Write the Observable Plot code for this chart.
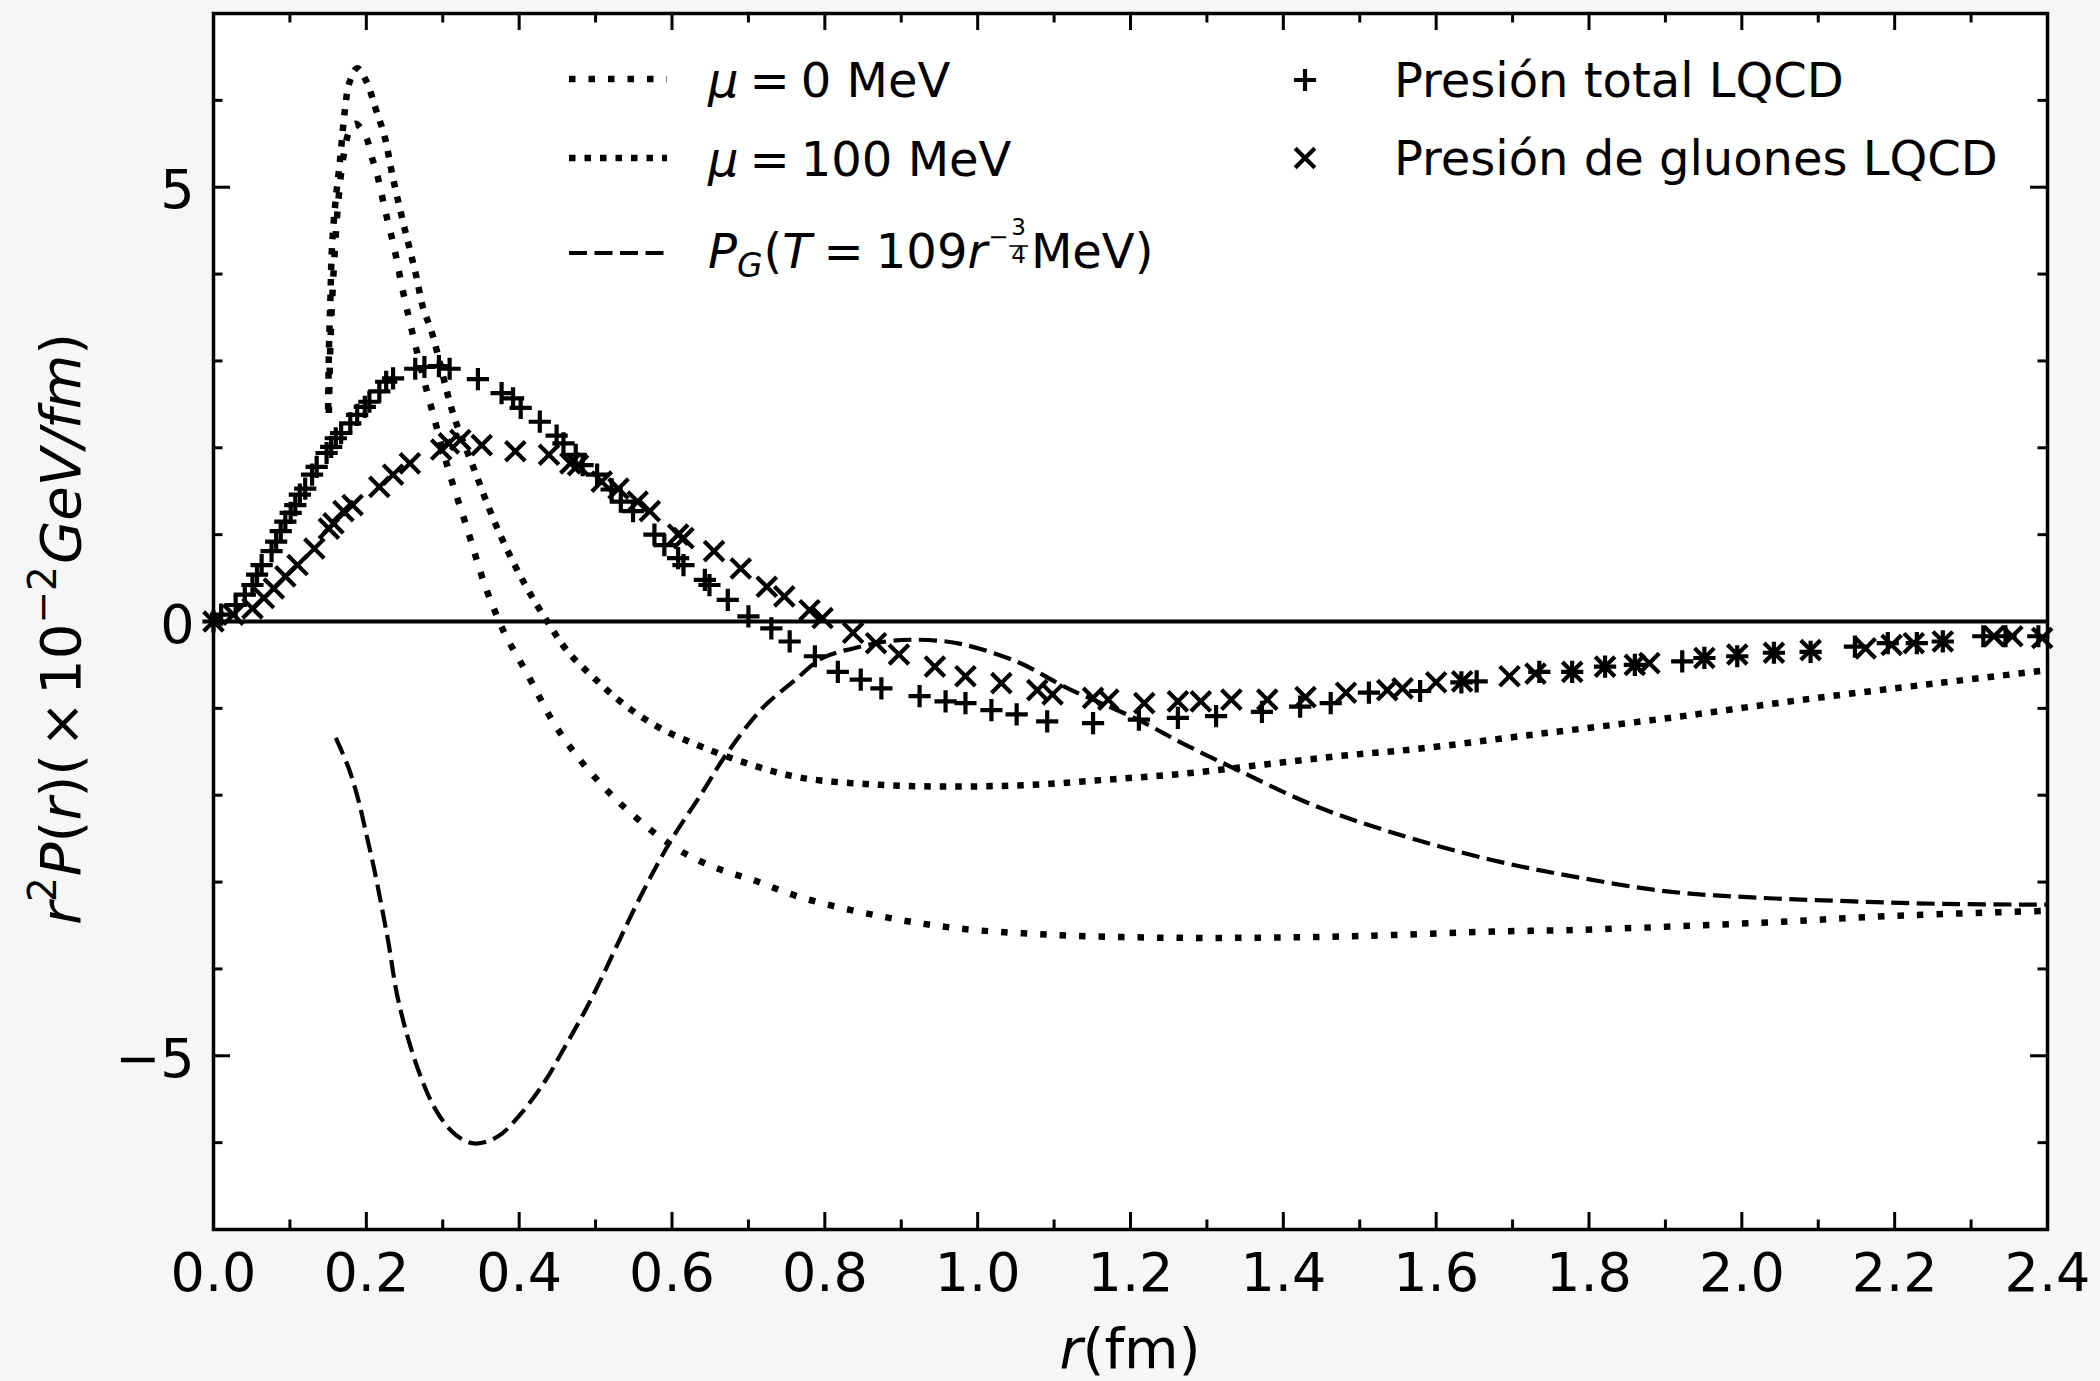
<!DOCTYPE html>
<html>
<head>
<meta charset="utf-8">
<script src="https://cdn.jsdelivr.net/npm/d3@7"></script>
<script src="https://cdn.jsdelivr.net/npm/@observablehq/plot@0.6"></script>
<style>
  html, body { margin: 0; padding: 0; background: #f6f6f6; }
  svg { display: block; }
  svg text { white-space: pre; }
</style>
</head>
<body>
<div id="chart"></div>
<script>
// ---------------- DATA ----------------
// mu = 0 MeV (dotted, sparser dots)
const mu0R = [0.151,0.153,0.157,0.163,0.170,0.178,0.186,0.200,0.207,0.214,0.225,0.237,0.247,0.258,0.276,0.287,0.308,0.333,0.355,0.373,0.384,0.411,0.444,0.474,0.508,0.544,0.598,0.637,0.671,0.704,0.770,0.871,0.971,1.104,1.238,1.372,1.505,1.673,1.788,2.021,2.197,2.400];
const mu0P = [2.40,3.20,4.00,4.80,5.35,5.65,5.73,5.57,5.35,5.15,4.72,4.28,3.84,3.41,2.76,2.40,1.73,1.04,0.42,0.02,-0.19,-0.61,-1.15,-1.53,-1.88,-2.19,-2.57,-2.76,-2.88,-2.97,-3.18,-3.39,-3.53,-3.61,-3.64,-3.64,-3.62,-3.57,-3.55,-3.47,-3.39,-3.33];

// mu = 100 MeV (dotted, denser dots)
const mu100R = [0.150,0.151,0.153,0.155,0.160,0.165,0.172,0.178,0.188,0.200,0.212,0.224,0.235,0.248,0.257,0.266,0.274,0.286,0.314,0.339,0.373,0.408,0.439,0.464,0.498,0.538,0.585,0.638,0.704,0.770,0.871,0.971,1.071,1.171,1.272,1.372,1.472,1.572,1.729,1.905,2.080,2.256,2.400];
const mu100P = [2.44,3.11,3.72,4.30,4.87,5.26,5.89,6.21,6.37,6.22,5.91,5.58,5.10,4.60,4.28,3.95,3.62,3.32,2.38,1.80,1.04,0.42,-0.03,-0.35,-0.65,-0.96,-1.23,-1.44,-1.65,-1.80,-1.88,-1.90,-1.88,-1.82,-1.75,-1.65,-1.55,-1.47,-1.30,-1.11,-0.90,-0.71,-0.56];

// P_G(T = 109 r^-3/4 MeV) (dashed)
const pgR = [0.160,0.177,0.190,0.200,0.210,0.228,0.242,0.267,0.292,0.317,0.342,0.372,0.401,0.434,0.459,0.493,0.558,0.598,0.638,0.671,0.718,0.759,0.797,0.837,0.880,0.917,0.959,0.984,1.051,1.118,1.205,1.272,1.345,1.438,1.539,1.670,1.788,1.905,2.021,2.138,2.256,2.400];
const pgP = [-1.34,-1.69,-2.07,-2.45,-2.84,-3.65,-4.37,-5.14,-5.64,-5.91,-6.01,-5.93,-5.68,-5.29,-4.91,-4.37,-3.18,-2.53,-1.99,-1.53,-1.00,-0.69,-0.42,-0.31,-0.23,-0.21,-0.23,-0.27,-0.46,-0.77,-1.11,-1.42,-1.73,-2.11,-2.42,-2.74,-2.95,-3.11,-3.18,-3.22,-3.25,-3.26];

// Presión total LQCD (+)
const totalR = [0.000,0.010,0.029,0.041,0.051,0.057,0.063,0.076,0.082,0.088,0.094,0.101,0.107,0.113,0.120,0.129,0.135,0.148,0.154,0.160,0.167,0.179,0.188,0.198,0.204,0.217,0.226,0.235,0.264,0.276,0.295,0.309,0.346,0.377,0.392,0.402,0.427,0.449,0.458,0.474,0.483,0.502,0.521,0.533,0.549,0.577,0.590,0.608,0.615,0.643,0.649,0.673,0.700,0.730,0.754,0.787,0.817,0.847,0.874,0.924,0.958,0.984,1.018,1.051,1.091,1.151,1.211,1.262,1.312,1.372,1.422,1.462,1.512,1.579,1.633,1.653,1.735,1.778,1.821,1.860,1.922,1.951,1.994,2.042,2.090,2.148,2.191,2.229,2.263,2.316,2.345,2.388];
const totalP = [0.00,0.08,0.19,0.31,0.42,0.54,0.65,0.81,0.92,1.04,1.15,1.25,1.34,1.46,1.53,1.69,1.78,1.94,2.01,2.11,2.17,2.28,2.38,2.47,2.53,2.65,2.76,2.80,2.91,2.93,2.94,2.91,2.79,2.63,2.57,2.46,2.30,2.14,2.05,1.92,1.80,1.69,1.52,1.38,1.27,1.00,0.88,0.73,0.65,0.48,0.42,0.25,0.06,-0.08,-0.23,-0.40,-0.58,-0.67,-0.77,-0.86,-0.92,-0.94,-1.02,-1.07,-1.15,-1.17,-1.13,-1.11,-1.09,-1.04,-0.98,-0.94,-0.82,-0.80,-0.70,-0.69,-0.58,-0.58,-0.52,-0.50,-0.46,-0.42,-0.40,-0.36,-0.35,-0.29,-0.25,-0.25,-0.23,-0.17,-0.17,-0.17];

// Presión de gluones LQCD (x)
const gluonR = [0.000,0.026,0.051,0.066,0.079,0.094,0.110,0.132,0.151,0.157,0.170,0.182,0.217,0.235,0.257,0.298,0.308,0.323,0.351,0.395,0.439,0.467,0.477,0.508,0.530,0.555,0.571,0.608,0.615,0.655,0.690,0.724,0.747,0.780,0.797,0.837,0.867,0.897,0.944,0.984,1.031,1.078,1.098,1.151,1.171,1.218,1.262,1.292,1.332,1.379,1.429,1.482,1.536,1.556,1.600,1.634,1.696,1.730,1.778,1.821,1.860,1.879,1.951,1.994,2.042,2.090,2.162,2.196,2.225,2.263,2.330,2.354,2.393];
const gluonP = [0.00,0.08,0.15,0.27,0.38,0.52,0.65,0.84,1.07,1.13,1.27,1.34,1.55,1.69,1.82,1.98,2.05,2.09,2.03,1.96,1.92,1.82,1.80,1.61,1.53,1.38,1.27,1.00,0.96,0.81,0.61,0.40,0.29,0.13,0.04,-0.13,-0.25,-0.38,-0.52,-0.63,-0.71,-0.79,-0.84,-0.88,-0.90,-0.94,-0.92,-0.92,-0.90,-0.90,-0.87,-0.82,-0.79,-0.77,-0.70,-0.69,-0.63,-0.60,-0.58,-0.52,-0.50,-0.48,-0.42,-0.38,-0.36,-0.33,-0.31,-0.27,-0.25,-0.23,-0.17,-0.17,-0.19];

// ticks
const xMajor = [0.0,0.2,0.4,0.6,0.8,1.0,1.2,1.4,1.6,1.8,2.0,2.2,2.4];
const xMinor = [0.1,0.3,0.5,0.7,0.9,1.1,1.3,1.5,1.7,1.9,2.1,2.3];
const yMajor = [-5,0,5];
const yMinor = [-6,-4,-3,-2,-1,1,2,3,4,6];

// legend labels
const legendMu0 = "0 MeV";
const legendMu100 = "100 MeV";
const legendTotal = "Presión total LQCD";
const legendGluon = "Presión de gluones LQCD";

// ---------------- LAYOUT / STYLE ----------------
const FONT = "DejaVu Sans";
const W = 2100, H = 1381;
const M = {top: 13, right: 53, bottom: 152, left: 213};
const xDomain = [0, 2.4], yDomain = [-7, 7];
const pxPerX = (W - M.left - M.right) / (xDomain[1] - xDomain[0]);
const pxPerY = (H - M.top - M.bottom) / (yDomain[1] - yDomain[0]);
const majorLen = 17, minorLen = 9.5, tickW = 3;
const tickFont = 54, labelFont = 56, legendFont = 48;

const dotMu0 = {stroke: "black", strokeWidth: 6.5, strokeDasharray: "6.5,13", strokeLinecap: "butt"};
const dotMu100 = {stroke: "black", strokeWidth: 6.5, strokeDasharray: "6.5,9", strokeLinecap: "butt"};
const dashPG = {stroke: "black", strokeWidth: 4.2, strokeDasharray: "18,7.5", strokeLinecap: "butt"};
const plusR = 7.2, timesR = 9.0, markerW = 4.2;

const toRows = (R, P) => R.map((r, i) => ({r, p: P[i]}));
const mu0 = toRows(mu0R, mu0P);
const mu100 = toRows(mu100R, mu100P);
const pg = toRows(pgR, pgP);
const total = toRows(totalR, totalP);
const gluon = toRows(gluonR, gluonP);

function xTickRules(vals, len) {
  return [
    Plot.ruleX(vals, {x: d => d, y1: yDomain[0], y2: yDomain[0] + len / pxPerY, stroke: "black", strokeWidth: tickW}),
    Plot.ruleX(vals, {x: d => d, y1: yDomain[1], y2: yDomain[1] - len / pxPerY, stroke: "black", strokeWidth: tickW})
  ];
}
function yTickRules(vals, len) {
  return [
    Plot.ruleY(vals, {y: d => d, x1: xDomain[0], x2: xDomain[0] + len / pxPerX, stroke: "black", strokeWidth: tickW}),
    Plot.ruleY(vals, {y: d => d, x1: xDomain[1], x2: xDomain[1] - len / pxPerX, stroke: "black", strokeWidth: tickW})
  ];
}

const chart = Plot.plot({
  width: W, height: H,
  marginTop: M.top, marginRight: M.right, marginBottom: M.bottom, marginLeft: M.left,
  style: {background: "#f6f6f6", fontFamily: FONT, fontSize: tickFont + "px", color: "black"},
  x: {domain: xDomain, label: null},
  y: {domain: yDomain, label: null},
  marks: [
    Plot.frame({fill: "white", stroke: null}),
    Plot.axisX({ticks: xMajor, tickSize: 0, tickPadding: 23, tickFormat: d3.format(".1f"), fontSize: tickFont, label: null}),
    Plot.axisY({ticks: yMajor, tickSize: 0, tickPadding: 19, tickFormat: d3.format("d"), fontSize: tickFont, label: null, dy: 4}),
    ...xTickRules(xMajor, majorLen),
    ...xTickRules(xMinor, minorLen),
    ...yTickRules(yMajor, majorLen),
    ...yTickRules(yMinor, minorLen),
    Plot.ruleY([0], {stroke: "black", strokeWidth: 4}),
    Plot.line(mu0, {x: "r", y: "p", curve: "catmull-rom", ...dotMu0}),
    Plot.line(mu100, {x: "r", y: "p", curve: "catmull-rom", ...dotMu100}),
    Plot.line(pg, {x: "r", y: "p", curve: "catmull-rom", ...dashPG}),
    Plot.dot(total, {x: "r", y: "p", symbol: "plus", r: plusR, fill: "none", stroke: "black", strokeWidth: markerW}),
    Plot.dot(gluon, {x: "r", y: "p", symbol: "times", r: timesR, fill: "none", stroke: "black", strokeWidth: markerW}),
    Plot.frame({stroke: "black", strokeWidth: 3.5, fill: "none"})
  ]
});
document.getElementById("chart").appendChild(chart);

// ---------------- RICH TEXT (labels, legend) ----------------
const svg = d3.select(chart);

function rich(parent, parts, size) {
  const g = parent.append("g").attr("font-family", FONT).attr("fill", "black").attr("text-anchor", "start");
  let cx = 0;
  for (const p of parts) {
    if (p.frac) {
      const fs = p.size;
      const a = g.append("text").attr("font-size", fs).attr("text-anchor", "middle").text(p.frac[0]);
      const wA = a.node().getComputedTextLength();
      const b = g.append("text").attr("font-size", fs).attr("text-anchor", "middle").text(p.frac[1]);
      const wB = b.node().getComputedTextLength();
      const w = Math.max(wA, wB) + 4;
      const cxm = cx + (p.dx || 0) + w / 2;
      a.attr("x", cxm).attr("y", p.top);
      b.attr("x", cxm).attr("y", p.bottom);
      g.append("line").attr("x1", cx + (p.dx || 0)).attr("x2", cx + (p.dx || 0) + w)
        .attr("y1", p.bar).attr("y2", p.bar).attr("stroke", "black").attr("stroke-width", 1.6);
      cx += (p.dx || 0) + w + (p.after || 0);
      continue;
    }
    const el = g.append("text")
      .attr("text-anchor", "start")
      .attr("x", cx + (p.dx || 0))
      .attr("y", p.dy || 0)
      .attr("font-size", p.size || size)
      .attr("font-style", p.it ? "italic" : "normal")
      .text(p.t);
    cx += (p.dx || 0) + el.node().getComputedTextLength() + (p.after || 0);
  }
  return {g, width: cx};
}

// x label
{
  const s = labelFont;
  const r = rich(svg, [{t: "r", it: true}, {t: "(fm)"}], s);
  r.g.attr("transform", `translate(${(M.left + W - M.right) / 2 - r.width / 2}, 1368)`);
}
// y label
{
  const s = labelFont, sup = Math.round(s * 0.7);
  const r = rich(svg, [
    {t: "r", it: true},
    {t: "2", size: sup, dy: -s * 0.42, after: 1},
    {t: "P", it: true},
    {t: "("}, {t: "r", it: true}, {t: ")"},
    {t: "(", after: 6},
    {t: "×", after: 6},
    {t: "10"},
    {t: "−2", size: sup, dy: -s * 0.42, after: 2},
    {t: "GeV/fm", it: true},
    {t: ")"}
  ], s);
  r.g.attr("transform", `translate(80, 629) rotate(-90) translate(${-r.width / 2}, 0)`);
}

// legend
{
  const lg = svg.append("g");
  const hx1 = 569, hx2 = 667, tx = 708;
  const line = (y, st) => lg.append("line").attr("x1", hx1).attr("x2", hx2).attr("y1", y).attr("y2", y)
    .attr("stroke", "black").attr("stroke-width", st.strokeWidth).attr("stroke-dasharray", st.strokeDasharray);
  line(79, dotMu0);
  line(158, dotMu100);
  line(253, dashPG);

  const s = legendFont;
  const r1 = rich(lg, [{t: "μ", it: true}, {t: "=", dx: 11, after: 11}, {t: legendMu0}], s);
  r1.g.attr("transform", `translate(${tx}, 97)`);
  const r2 = rich(lg, [{t: "μ", it: true}, {t: "=", dx: 11, after: 11}, {t: legendMu100}], s);
  r2.g.attr("transform", `translate(${tx}, 176)`);
  const r3 = rich(lg, [
    {t: "P", it: true},
    {t: "G", it: true, size: 33, dy: 9, after: 1},
    {t: "("},
    {t: "T", it: true},
    {t: "=", dx: 12, after: 12},
    {t: "109"},
    {t: "r", it: true, after: 1},
    {t: "−", size: 24, dy: -23},
    {frac: ["3", "4"], size: 23, top: -33, bottom: -5, bar: -22, dx: 1, after: 3},
    {t: "MeV)"}
  ], s);
  r3.g.attr("transform", `translate(${tx}, 268)`);

  const mx = 1305, tx2 = 1394;
  lg.append("path").attr("d", d3.symbol(d3.symbolPlus, plusR * plusR * Math.PI)())
    .attr("transform", `translate(${mx}, 80)`).attr("fill", "none").attr("stroke", "black").attr("stroke-width", markerW);
  lg.append("path").attr("d", d3.symbol(d3.symbolTimes, timesR * timesR * Math.PI)())
    .attr("transform", `translate(${mx}, 158)`).attr("fill", "none").attr("stroke", "black").attr("stroke-width", markerW);
  const r4 = rich(lg, [{t: legendTotal}], s);
  r4.g.attr("transform", `translate(${tx2}, 97)`);
  const r5 = rich(lg, [{t: legendGluon}], s);
  r5.g.attr("transform", `translate(${tx2}, 175)`);
}
</script>
</body>
</html>
